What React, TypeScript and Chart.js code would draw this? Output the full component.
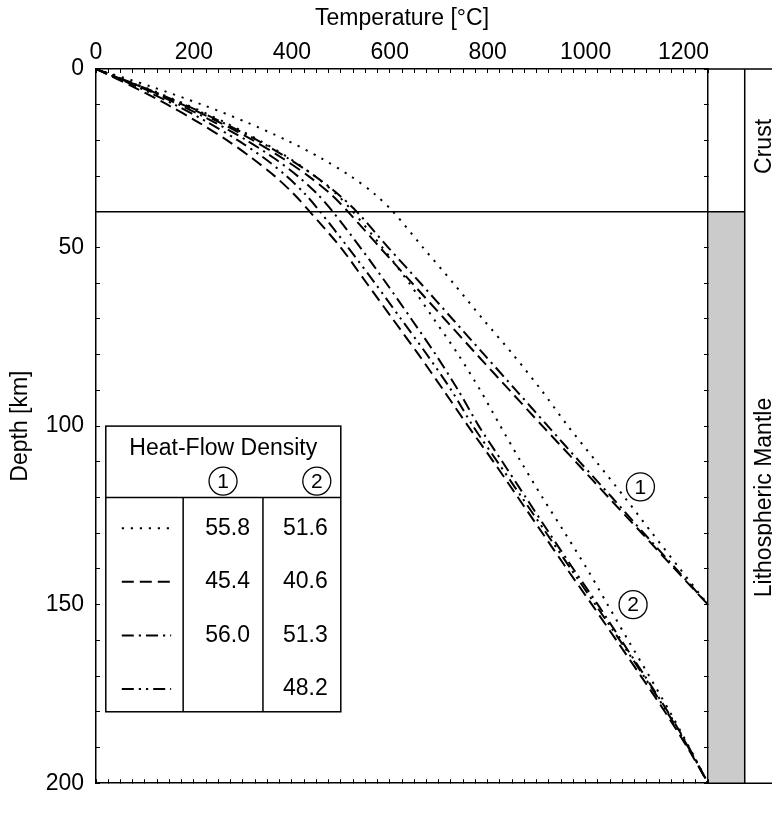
import React, { useEffect, useRef } from 'react';
import { Chart, registerables } from 'chart.js';

Chart.register(...registerables);

const FONT = '"Liberation Sans", Arial, Helvetica, sans-serif';

// ---- data (temperature in °C at depth in km) ----
const depthModel1 = [0, 5, 10, 15, 20, 25, 30, 35, 40, 50, 60, 70, 80, 90, 100, 110, 120, 130, 140, 150];
const depthModel2 = [0, 5, 10, 15, 20, 25, 30, 35, 40, 50, 60, 70, 80, 90, 100, 110, 120, 130, 140, 150, 160, 170, 180, 190, 200];

const dotted1 = [0, 114, 217, 309, 390, 460, 520, 569, 607, 668, 730, 790, 852, 910, 964, 1022, 1080, 1136, 1193, 1250];
const dashed1 = [0, 92, 177, 253, 321, 381, 434, 479, 515, 580, 646, 712, 778, 845, 912, 980, 1047, 1115, 1182, 1250];
const dashDot1 = [0, 94, 181, 259, 330, 392, 447, 494, 533, 597, 663, 728, 793, 858, 923, 988, 1054, 1119, 1185, 1250];

const dotted2 = [0, 97, 185, 264, 334, 395, 447, 491, 525, 585, 640, 690, 740, 785, 826, 868, 912, 958, 1003, 1045, 1087, 1130, 1172, 1212, 1250];
const dashed2 = [0, 76, 146, 210, 268, 319, 365, 404, 437, 500, 553, 606, 659, 710, 760, 812, 862, 912, 962, 1013, 1063, 1113, 1162, 1208, 1250];
const dashDot2 = [0, 89, 170, 243, 308, 364, 412, 452, 484, 540, 593, 644, 694, 740, 782, 830, 878, 926, 975, 1025, 1073, 1121, 1168, 1211, 1250];
const dashDotDot2 = [0, 84, 161, 229, 290, 344, 389, 427, 458, 515, 570, 623, 676, 726, 770, 820, 870, 920, 970, 1020, 1070, 1119, 1166, 1210, 1250];

const heatFlow1 = ['55.8', '45.4', '56.0', ''];
const heatFlow2 = ['51.6', '40.6', '51.3', '48.2'];

const tempTickLabels = [0, 200, 400, 600, 800, 1000, 1200];
const depthTickLabels = [0, 50, 100, 150, 200];

const TEMP_MAX = 1250;
const COLUMN_EDGE = 1325;
const DEPTH_MAX = 200;
const MOHO = 40;

// ---- styles ----
const DASH: Record<string, number[]> = {
  dotted: [2.2, 6.8],
  dashed: [12, 6],
  dashDot: [12, 5, 2.2, 5],
  dashDotDot: [12, 5, 2.2, 5, 2.2, 5],
};
const legendStyles = ['dotted', 'dashed', 'dashDot', 'dashDotDot'];

const series = [
  { depth: depthModel1, temp: dotted1, style: 'dotted' },
  { depth: depthModel1, temp: dashed1, style: 'dashed' },
  { depth: depthModel1, temp: dashDot1, style: 'dashDot' },
  { depth: depthModel2, temp: dotted2, style: 'dotted' },
  { depth: depthModel2, temp: dashed2, style: 'dashed' },
  { depth: depthModel2, temp: dashDot2, style: 'dashDot' },
  { depth: depthModel2, temp: dashDotDot2, style: 'dashDotDot' },
];

function circled(ctx: CanvasRenderingContext2D, cx: number, cy: number, label: string) {
  ctx.save();
  ctx.beginPath();
  ctx.setLineDash([]);
  ctx.lineWidth = 1.3;
  ctx.strokeStyle = '#000';
  ctx.arc(cx, cy, 14, 0, Math.PI * 2);
  ctx.stroke();
  ctx.fillStyle = '#000';
  ctx.font = `21px ${FONT}`;
  ctx.textAlign = 'center';
  ctx.textBaseline = 'middle';
  ctx.fillText(label, cx, cy + 1);
  ctx.restore();
}

const extras = {
  id: 'extras',
  afterDraw(chart: any) {
    const { ctx, chartArea: ca, scales } = chart;
    const xs = scales.x;
    const ys = scales.y;
    const px = (t: number) => xs.getPixelForValue(t);
    const py = (d: number) => ys.getPixelForValue(d);
    const W = chart.width;
    ctx.save();
    ctx.setLineDash([]);
    // mantle column
    ctx.fillStyle = '#cbcbcb';
    ctx.fillRect(px(TEMP_MAX) + 1, py(MOHO), px(COLUMN_EDGE) - px(TEMP_MAX) - 1, py(DEPTH_MAX) - py(MOHO));
    ctx.strokeStyle = '#000';
    ctx.lineWidth = 1.5;
    // Moho line
    ctx.beginPath();
    ctx.moveTo(ca.left, py(MOHO));
    ctx.lineTo(px(COLUMN_EDGE), py(MOHO));
    ctx.stroke();
    // column edge
    ctx.beginPath();
    ctx.moveTo(px(COLUMN_EDGE), ca.top);
    ctx.lineTo(px(COLUMN_EDGE), ca.bottom);
    ctx.stroke();
    // frame extension
    ctx.beginPath();
    ctx.moveTo(ca.right, ca.top);
    ctx.lineTo(W, ca.top);
    ctx.moveTo(ca.right, ca.bottom);
    ctx.lineTo(W, ca.bottom);
    ctx.stroke();
    // column labels
    ctx.fillStyle = '#000';
    ctx.font = `23px ${FONT}`;
    ctx.textAlign = 'center';
    ctx.textBaseline = 'alphabetic';
    const drawVert = (text: string, cy: number) => {
      ctx.save();
      ctx.translate(771, cy);
      ctx.rotate(-Math.PI / 2);
      ctx.fillText(text, 0, 0);
      ctx.restore();
    };
    drawVert('Crust', (py(0) + py(MOHO)) / 2 + 6);
    drawVert('Lithospheric Mantle', (py(MOHO) + py(DEPTH_MAX)) / 2);

    // legend table
    const tl = px(20), tr = px(500), c1 = px(178), c2 = px(341);
    const tt = py(100), th = py(120), tb = py(180);
    ctx.fillStyle = '#fff';
    ctx.fillRect(tl, tt, tr - tl, tb - tt);
    ctx.lineWidth = 1.5;
    ctx.strokeStyle = '#000';
    ctx.strokeRect(tl, tt, tr - tl, tb - tt);
    ctx.beginPath();
    ctx.moveTo(tl, th);
    ctx.lineTo(tr, th);
    ctx.moveTo(c1, th);
    ctx.lineTo(c1, tb);
    ctx.moveTo(c2, th);
    ctx.lineTo(c2, tb);
    ctx.stroke();
    ctx.fillStyle = '#000';
    ctx.font = `23px ${FONT}`;
    ctx.textAlign = 'center';
    ctx.textBaseline = 'middle';
    ctx.fillText('Heat-Flow Density', (tl + tr) / 2, tt + 23);
    circled(ctx, (c1 + c2) / 2, tt + 55, '1');
    circled(ctx, tr - 24, tt + 55, '2');
    const rowH = (tb - th) / 4;
    legendStyles.forEach((st, i) => {
      const ry = th + rowH * (i + 0.5) + 4;
      ctx.save();
      ctx.beginPath();
      ctx.lineWidth = 2;
      ctx.setLineDash(DASH[st]);
      ctx.moveTo(tl + 16, ry);
      ctx.lineTo(c1 - 12, ry);
      ctx.stroke();
      ctx.restore();
      ctx.textAlign = 'right';
      ctx.fillText(heatFlow1[i], c2 - 13, ry);
      ctx.fillText(heatFlow2[i], tr - 13, ry);
    });

    // model labels on plot
    circled(ctx, px(1112), py(117), '1');
    circled(ctx, px(1097), py(150), '2');
    ctx.restore();
  },
};

function minorTicks(max: number, step: number) {
  const out: { value: number }[] = [];
  for (let v = 0; v <= max + 1e-9; v += step) out.push({ value: v });
  return out;
}

export default function App() {
  const ref = useRef<HTMLCanvasElement | null>(null);
  useEffect(() => {
    if (!ref.current) return;
    const tickFont = { family: FONT, size: 23 };
    const chart = new Chart(ref.current, {
      type: 'line',
      data: {
        datasets: series.map((s) => ({
          data: s.depth.map((d, i) => ({ x: s.temp[i], y: d })),
          borderColor: '#000',
          borderWidth: 2,
          borderDash: DASH[s.style],
          pointRadius: 0,
          tension: 0.3,
          fill: false,
          xAxisID: 'x',
          yAxisID: 'y',
        })),
      },
      options: {
        animation: false,
        responsive: false,
        events: [],
        layout: { padding: { left: 0, top: 0, right: 64, bottom: 0 } },
        plugins: { legend: { display: false }, tooltip: { enabled: false } },
        scales: {
          x: {
            type: 'linear',
            position: 'top',
            min: 0,
            max: TEMP_MAX,
            afterBuildTicks: (s: any) => { s.ticks = minorTicks(TEMP_MAX, 25); },
            afterFit: (s: any) => { s.height = 69; },
            ticks: {
              autoSkip: false,
              maxRotation: 0,
              minRotation: 0,
              padding: 7,
              color: '#000',
              font: tickFont,
              callback: (v: any) => (tempTickLabels.includes(Number(v)) ? String(v) : ''),
            },
            grid: { drawOnChartArea: false, tickLength: -4, color: '#000', tickWidth: 1 },
            border: { color: '#000', width: 1.5 },
            title: { display: true, text: 'Temperature [°C]', color: '#000', font: tickFont, padding: { top: 5, bottom: 0 } },
          },
          x2: {
            type: 'linear',
            position: 'bottom',
            min: 0,
            max: TEMP_MAX,
            afterBuildTicks: (s: any) => { s.ticks = minorTicks(TEMP_MAX, 25); },
            afterFit: (s: any) => { s.height = 8; },
            ticks: { autoSkip: false, maxRotation: 0, callback: () => '', font: tickFont },
            grid: { drawOnChartArea: false, tickLength: -4, color: '#000', tickWidth: 1 },
            border: { color: '#000', width: 1.5 },
          },
          y: {
            type: 'linear',
            position: 'left',
            reverse: true,
            min: 0,
            max: DEPTH_MAX,
            afterBuildTicks: (s: any) => { s.ticks = minorTicks(DEPTH_MAX, 10); },
            afterFit: (s: any) => { s.width = 96; },
            ticks: {
              autoSkip: false,
              padding: 16,
              color: '#000',
              font: tickFont,
              callback: (v: any) => (depthTickLabels.includes(Number(v)) ? String(v) : ''),
            },
            grid: { drawOnChartArea: false, tickLength: -4, color: '#000', tickWidth: 1 },
            border: { color: '#000', width: 1.5 },
            title: { display: true, text: 'Depth [km]', color: '#000', font: tickFont, padding: { top: 7, bottom: 0 } },
          },
          y2: {
            type: 'linear',
            position: 'right',
            reverse: true,
            min: 0,
            max: DEPTH_MAX,
            afterBuildTicks: (s: any) => { s.ticks = minorTicks(DEPTH_MAX, 10); },
            afterFit: (s: any) => { s.width = 0; },
            ticks: { autoSkip: false, callback: () => '', font: tickFont },
            grid: { drawOnChartArea: false, tickLength: -4, color: '#000', tickWidth: 1 },
            border: { color: '#000', width: 1.5 },
          },
        },
      },
      plugins: [extras],
    } as any);
    return () => chart.destroy();
  }, []);
  return (
    <canvas
      ref={ref}
      width={772}
      height={813}
      style={{ position: 'absolute', left: 0, top: 0, width: 772, height: 813, background: '#fff' }}
    />
  );
}
